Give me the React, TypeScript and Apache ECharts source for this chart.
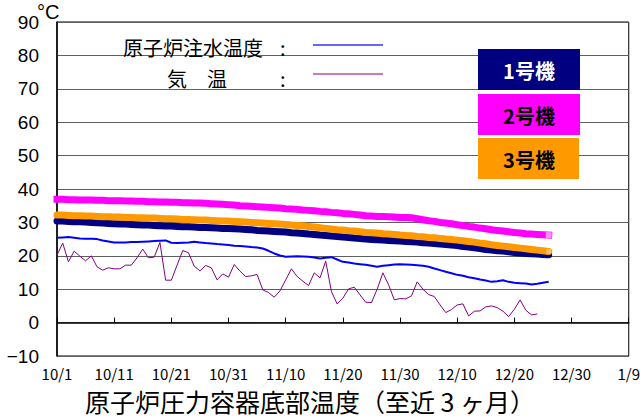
import React, { useEffect, useRef } from "react";
import * as echarts from "echarts";

// x tick labels (every 10 days starting 10/1)
const xTickLabels = ["10/1", "10/11", "10/21", "10/31", "11/10", "11/20", "11/30", "12/10", "12/20", "12/30", "1/9"];

// daily values starting 10/1 (index = days since 10/1)
const unit2 = [36.9, 36.9, 36.8, 36.8, 36.7, 36.7, 36.7, 36.6, 36.6, 36.5, 36.5, 36.5, 36.4, 36.4, 36.3, 36.3, 36.2, 36.2, 36.1, 36.1, 36.0, 36.0, 35.9, 35.9, 35.8, 35.8, 35.7, 35.6, 35.5, 35.4, 35.3, 35.2, 35.0, 34.9, 34.8, 34.7, 34.6, 34.5, 34.4, 34.3, 34.1, 34.0, 33.9, 33.7, 33.6, 33.5, 33.3, 33.2, 33.0, 32.9, 32.7, 32.6, 32.4, 32.2, 32.0, 31.9, 31.8, 31.8, 31.7, 31.6, 31.5, 31.5, 31.4, 31.1, 30.8, 30.5, 30.3, 30.0, 29.8, 29.6, 29.3, 29.1, 28.8, 28.6, 28.3, 28.1, 27.8, 27.6, 27.4, 27.2, 27.0, 26.8, 26.6, 26.5, 26.4, 26.3, 26.2];
const unit3 = [32.2, 32.2, 32.1, 32.0, 32.0, 31.9, 31.9, 31.8, 31.7, 31.7, 31.6, 31.6, 31.5, 31.5, 31.4, 31.4, 31.3, 31.3, 31.2, 31.1, 31.1, 31.0, 30.9, 30.9, 30.8, 30.7, 30.7, 30.6, 30.5, 30.4, 30.4, 30.3, 30.2, 30.1, 30.0, 29.9, 29.8, 29.7, 29.6, 29.5, 29.4, 29.2, 29.1, 29.0, 28.8, 28.6, 28.4, 28.2, 28.0, 27.8, 27.7, 27.5, 27.4, 27.2, 27.0, 26.9, 26.8, 26.6, 26.5, 26.4, 26.2, 26.1, 26.0, 25.8, 25.7, 25.5, 25.4, 25.2, 25.0, 24.9, 24.7, 24.5, 24.3, 24.1, 23.8, 23.6, 23.3, 23.1, 22.9, 22.7, 22.5, 22.3, 22.1, 21.9, 21.7, 21.5, 21.3];
const unit1 = [30.4, 30.4, 30.3, 30.2, 30.2, 30.1, 30.0, 29.9, 29.8, 29.7, 29.6, 29.5, 29.5, 29.4, 29.3, 29.2, 29.2, 29.1, 29.0, 28.9, 28.9, 28.8, 28.7, 28.7, 28.6, 28.5, 28.5, 28.4, 28.3, 28.2, 28.2, 28.1, 28.0, 27.9, 27.8, 27.6, 27.5, 27.4, 27.3, 27.2, 27.1, 26.9, 26.8, 26.7, 26.5, 26.4, 26.2, 26.1, 25.9, 25.8, 25.6, 25.5, 25.3, 25.2, 25.0, 24.9, 24.8, 24.7, 24.6, 24.5, 24.4, 24.3, 24.2, 24.1, 23.9, 23.8, 23.7, 23.5, 23.4, 23.2, 23.1, 22.8, 22.6, 22.4, 22.2, 21.9, 21.7, 21.5, 21.4, 21.2, 21.0, 20.8, 20.7, 20.6, 20.5, 20.4, 20.3];
const waterTemp = [25.4, 25.5, 25.6, 25.4, 25.2, 25.1, 25.1, 25.0, 24.6, 24.3, 24.0, 24.0, 24.0, 24.1, 24.1, 24.2, 24.3, 24.4, 24.5, 24.6, 23.9, 23.8, 23.9, 24.0, 24.2, 24.0, 23.8, 23.7, 23.5, 23.4, 23.2, 23.0, 22.9, 22.8, 22.6, 22.5, 22.2, 21.5, 20.7, 20.1, 19.7, 19.8, 19.9, 19.8, 19.7, 19.5, 19.2, 19.4, 19.6, 18.9, 18.2, 18.0, 17.7, 17.5, 17.3, 17.0, 16.7, 17.0, 17.2, 17.4, 17.5, 17.4, 17.3, 17.2, 17.0, 16.7, 16.2, 15.7, 15.2, 14.8, 14.3, 14.0, 13.6, 13.3, 12.9, 12.6, 12.2, 12.4, 12.7, 12.2, 11.9, 11.8, 11.7, 11.4, 11.6, 11.9, 12.2];
const airTemp = [20.2, 23.8, 18.2, 21.4, 19.9, 18.5, 20.0, 16.7, 15.7, 16.4, 16.1, 16.1, 17.2, 17.2, 19.4, 22.0, 19.4, 19.6, 24.0, 12.7, 12.7, 17.2, 21.6, 20.9, 16.9, 15.5, 17.1, 16.4, 12.8, 14.6, 13.6, 17.4, 15.4, 13.8, 14.0, 14.4, 9.8, 9.0, 7.6, 9.5, 12.8, 16.1, 13.8, 12.4, 11.1, 14.9, 13.4, 18.4, 9.3, 5.6, 7.3, 10.1, 10.6, 8.3, 6.1, 6.0, 10.0, 14.9, 11.3, 6.8, 7.2, 7.1, 8.0, 12.2, 10.0, 8.4, 7.8, 5.3, 3.0, 3.9, 5.3, 5.6, 2.0, 3.4, 3.5, 4.7, 5.0, 4.5, 3.4, 1.8, 4.0, 6.8, 3.7, 2.3, 2.6];

const CJK = '"Noto Sans CJK JP", sans-serif';

function toPairs(arr: number[]) {
  return arr.map((v, i) => [i, v]);
}

function withEndMarker(arr: number[], color: string, size: number) {
  return arr.map((v, i) =>
    i === arr.length - 1
      ? { value: [i, v], symbol: "rect", symbolSize: size, itemStyle: { color } }
      : { value: [i, v], symbol: "none" }
  );
}

export default function App() {
  const ref = useRef<HTMLDivElement>(null);
  useEffect(() => {
    if (!ref.current) return;
    const chart = echarts.init(ref.current, null, { renderer: "svg" });
    const option: any = {
      animation: false,
      backgroundColor: "#ffffff",
      grid: { left: 57, right: 14, top: 22, bottom: 62, show: true, borderColor: "#000", borderWidth: 1, backgroundColor: "transparent" },
      xAxis: {
        type: "value",
        min: 0,
        max: 100,
        interval: 10,
        axisLine: { show: true, lineStyle: { color: "#000", width: 1.5 } },
        axisTick: { show: true, inside: true, length: 5, lineStyle: { color: "#000" } },
        splitLine: { show: false },
        axisLabel: {
          margin: 10,
          color: "#000",
          fontSize: 15,
          fontFamily: CJK,
          formatter: (v: number) => xTickLabels[Math.round(v / 10)] ?? "",
        },
      },
      yAxis: {
        type: "value",
        min: -10,
        max: 90,
        interval: 10,
        axisLine: { show: true, lineStyle: { color: "#000", width: 1.5 } },
        axisTick: { show: false },
        splitLine: { show: true, lineStyle: { color: "#606060", width: 1 } },
        axisLabel: {
          margin: 18,
          color: "#000",
          fontSize: 19,
          fontFamily: '"Liberation Sans", Arial, sans-serif',
          formatter: (v: number) => (v < 0 ? "\u2212" + Math.abs(v) : String(v)),
        },
      },
      series: [
        {
          name: "気温",
          type: "line",
          data: toPairs(airTemp),
          symbol: "none",
          lineStyle: { color: "#800080", width: 1 },
          z: 3,
        },
        {
          name: "原子炉注水温度",
          type: "line",
          data: toPairs(waterTemp),
          symbol: "none",
          lineStyle: { color: "#0000ff", width: 2 },
          z: 3,
        },
        {
          name: "1号機",
          type: "line",
          data: toPairs(unit1),
          symbol: "none",
          clip: false,
          lineStyle: { color: "#000080", width: 7, cap: "round" },
          z: 4,
        },
        {
          name: "3号機",
          type: "line",
          data: withEndMarker(unit3, "#ffc060", 5),
          symbol: "none",
          showSymbol: true,
          showAllSymbol: true,
          clip: false,
          itemStyle: { color: "#ff9900" },
          lineStyle: { color: "#ff9900", width: 7, cap: "round" },
          z: 5,
        },
        {
          name: "2号機",
          type: "line",
          data: withEndMarker(unit2, "#ff88ff", 6),
          symbol: "none",
          showSymbol: true,
          showAllSymbol: true,
          clip: false,
          itemStyle: { color: "#ff00ff" },
          lineStyle: { color: "#ff00ff", width: 7, cap: "square" },
          z: 5,
        },
      ],
      graphic: [
        { type: "text", left: 37, top: 2, z: 100, style: { text: "°C", fontSize: 20, fontFamily: '"Liberation Sans", Arial, sans-serif', fill: "#000" } },
        { type: "text", x: 123, y: 47, z: 100, style: { text: "原子炉注水温度", fontSize: 20, fontFamily: CJK, fill: "#000", verticalAlign: "middle" } },
        { type: "text", x: 280, y: 47, z: 100, style: { text: ":", fontSize: 20, fontFamily: CJK, fill: "#000", verticalAlign: "middle" } },
        { type: "line", z: 100, shape: { x1: 313, y1: 45, x2: 383, y2: 45 }, style: { stroke: "#3333ff", lineWidth: 1.5 } },
        { type: "text", x: 167, y: 78, z: 100, style: { text: "気\u3000温", fontSize: 20, fontFamily: CJK, fill: "#000", verticalAlign: "middle" } },
        { type: "text", x: 280, y: 78, z: 100, style: { text: ":", fontSize: 20, fontFamily: CJK, fill: "#000", verticalAlign: "middle" } },
        { type: "line", z: 100, shape: { x1: 313, y1: 74, x2: 383, y2: 74 }, style: { stroke: "#800080", lineWidth: 1 } },
        { type: "rect", z: 100, shape: { x: 478, y: 49, width: 102, height: 41 }, style: { fill: "#000080" } },
        { type: "text", x: 529, y: 70, z: 101, style: { text: "1号機", fontSize: 20, fontWeight: "bold", fontFamily: CJK, fill: "#ffffff", align: "center", verticalAlign: "middle" } },
        { type: "rect", z: 100, shape: { x: 478, y: 94, width: 102, height: 41 }, style: { fill: "#ff00ff" } },
        { type: "text", x: 529, y: 115, z: 101, style: { text: "2号機", fontSize: 20, fontWeight: "bold", fontFamily: CJK, fill: "#000000", align: "center", verticalAlign: "middle" } },
        { type: "rect", z: 100, shape: { x: 478, y: 138, width: 101, height: 41 }, style: { fill: "#ff9900" } },
        { type: "text", x: 529, y: 159, z: 101, style: { text: "3号機", fontSize: 20, fontWeight: "bold", fontFamily: CJK, fill: "#000000", align: "center", verticalAlign: "middle" } },
        { type: "text", x: 85, y: 401, z: 100, style: { text: "原子炉圧力容器底部温度（至近 3 ヶ月）", fontSize: 25, lineHeight: 26, fontFamily: CJK, fill: "#000", verticalAlign: "middle" } },
      ],
    };
    chart.setOption(option);
    return () => chart.dispose();
  }, []);
  return <div ref={ref} style={{ position: "absolute", left: 0, top: 0, width: 643, height: 418 }} />;
}
